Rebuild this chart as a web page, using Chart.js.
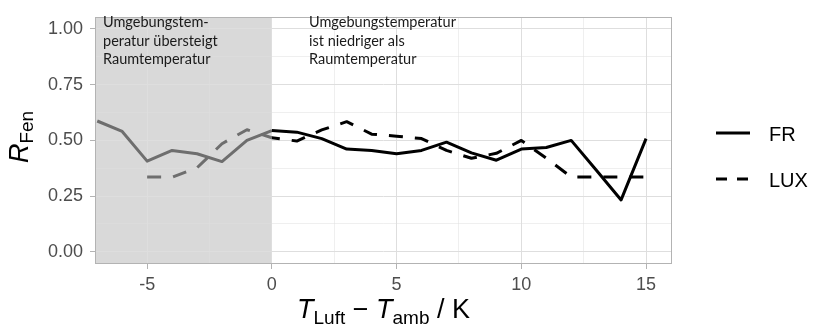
<!DOCTYPE html>
<html>
<head>
<meta charset="utf-8">
<script src="https://cdn.jsdelivr.net/npm/chart.js@4.4.1/dist/chart.umd.min.js"></script>
<style>
  html, body { margin: 0; padding: 0; background: #ffffff; }
  canvas { display: block; }
</style>
</head>
<body>
<canvas id="rfenChart" width="817" height="328"></canvas>
<script>
// --- Data: R_Fen over T_Luft - T_amb ---
// warm side (ambient hotter than room, x <= 0) is drawn in grey
const frWarmX = [-7, -6, -5, -4, -3, -2, -1, 0];
const frWarm = [0.587, 0.54, 0.407, 0.455, 0.44, 0.405, 0.50, 0.544];
const frColdX = [0, 1, 2, 3, 4, 5, 6, 7, 8, 9, 10, 11, 12, 13, 14, 15];
const frCold = [0.544, 0.537, 0.508, 0.461, 0.455, 0.44, 0.455, 0.492, 0.444, 0.411, 0.461, 0.468, 0.50, 0.367, 0.233, 0.508];

const luxWarmX = [-5, -4, -3, -2, -1, 0];
const luxWarm = [0.336, 0.335, 0.377, 0.485, 0.548, 0.512];
const luxColdX = [0, 1, 2, 3, 4, 5, 6, 7, 8, 9, 10, 11, 12, 13, 14, 15];
const luxCold = [0.512, 0.497, 0.547, 0.584, 0.528, 0.519, 0.508, 0.455, 0.42, 0.442, 0.50, 0.42, 0.336, 0.336, 0.336, 0.336];

const seriesNames = ["FR", "LUX"];

// axis ticks (major get labels, minor only grid lines)
const xMajorTicks = [-5, 0, 5, 10, 15];
const xMinorTicks = [-2.5, 2.5, 7.5, 12.5];
const yMajorTicks = [0, 0.25, 0.5, 0.75, 1];
const yMinorTicks = [0.125, 0.375, 0.625, 0.875];

const shadeEnd = 0; // shaded region runs from the left edge to x = 0
const noteWarm = ["Umgebungstem-", "peratur übersteigt", "Raumtemperatur"];
const noteCold = ["Umgebungstemperatur", "ist niedriger als", "Raumtemperatur"];

const BLACK = "#000000";
const GREY = "#6e6e6e";
const DASH = [14, 12];
const TICK_FONT = "'Liberation Sans', Arial, sans-serif";
const NOTE_FONT = "Lato, 'Open Sans', sans-serif";

function toPoints(xs, ys) {
  return xs.map((x, i) => ({ x: x, y: ys[i] }));
}

function lineSet(label, xs, ys, color, dash, offset) {
  return {
    label: label,
    data: toPoints(xs, ys),
    borderColor: color,
    backgroundColor: color,
    borderWidth: 3,
    borderDash: dash,
    borderDashOffset: offset || 0,
    borderCapStyle: "butt",
    borderJoinStyle: "round",
    pointRadius: 0,
    tension: 0,
    fill: false,
  };
}

// draw a run of text pieces with different fonts / baseline shifts, centred on x
function drawRich(ctx, parts, x, y) {
  let total = 0;
  parts.forEach(p => { ctx.font = p.font; total += ctx.measureText(p.text).width; });
  let cx = x - total / 2;
  parts.forEach(p => {
    ctx.font = p.font;
    ctx.fillText(p.text, cx, y + (p.dy || 0));
    cx += ctx.measureText(p.text).width;
  });
}

const panelPlugin = {
  id: "panel",
  beforeDraw(chart) {
    const { ctx, chartArea: a, scales } = chart;
    const xe = scales.x.getPixelForValue(shadeEnd);
    ctx.save();
    ctx.fillStyle = "#d9d9d9";
    ctx.fillRect(a.left, a.top, xe - a.left, a.bottom - a.top);
    ctx.restore();
  },
  afterDatasetsDraw(chart) {
    const { ctx, chartArea: a } = chart;
    ctx.save();
    ctx.strokeStyle = "#b3b3b3";
    ctx.lineWidth = 1;
    ctx.strokeRect(Math.round(a.left) - 0.5, Math.round(a.top) - 0.5,
      Math.round(a.right - a.left) + 1, Math.round(a.bottom - a.top) + 1);
    ctx.restore();
  },
  afterDraw(chart) {
    const { ctx, chartArea: a } = chart;
    ctx.save();

    // notes inside the panel
    ctx.fillStyle = "#1a1a1a";
    ctx.font = "14.5px " + NOTE_FONT;
    ctx.textAlign = "left";
    ctx.textBaseline = "alphabetic";
    noteWarm.forEach((t, i) => ctx.fillText(t, a.left + 7, 27 + i * 18.7));
    noteCold.forEach((t, i) => ctx.fillText(t, 309, 27 + i * 18.7));

    // legend
    const legendY = [133, 179];
    chart.data.datasets.filter(d => seriesNames.includes(d.label)).forEach((d, i) => {
      const y = legendY[i];
      ctx.strokeStyle = d.borderColor;
      ctx.lineWidth = 3;
      ctx.lineCap = "butt";
      ctx.setLineDash(d.borderDash.length ? [11, 10] : []);
      ctx.beginPath();
      ctx.moveTo(716, y);
      ctx.lineTo(750, y);
      ctx.stroke();
      ctx.setLineDash([]);
      ctx.fillStyle = "#000000";
      ctx.font = "20px " + TICK_FONT;
      ctx.fillText(d.label, 769, y + 7.5);
    });

    // x axis title: T_Luft − T_amb / K
    const big = "27px " + TICK_FONT;
    const bigIt = "italic 27px " + TICK_FONT;
    const sub = "19px " + TICK_FONT;
    ctx.fillStyle = "#000000";
    drawRich(ctx, [
      { text: "T", font: bigIt },
      { text: "Luft", font: sub, dy: 6 },
      { text: " \u2212 ", font: big },
      { text: "T", font: bigIt },
      { text: "amb", font: sub, dy: 6 },
      { text: " / K", font: big },
    ], (a.left + a.right) / 2, 318);

    // y axis title: R_Fen
    ctx.translate(28, 137);
    ctx.rotate(-Math.PI / 2);
    drawRich(ctx, [
      { text: "R", font: bigIt },
      { text: "Fen", font: sub, dy: 5 },
    ], 0, 0);

    ctx.restore();
  },
};

function gridStyle(majors) {
  return {
    color: "#dedede",
    lineWidth: c => (c.tick && majors.includes(c.tick.value) ? 1 : 0.5),
    tickColor: c => (c.tick && majors.includes(c.tick.value) ? "#b3b3b3" : "rgba(0,0,0,0)"),
    tickLength: 6,
    drawTicks: true,
  };
}

const ctx = document.getElementById("rfenChart").getContext("2d");

const chart = new Chart(ctx, {
  type: "line",
  data: {
    datasets: [
      lineSet("FR", frColdX, frCold, BLACK, []),
      lineSet("LUX", luxColdX, luxCold, BLACK, DASH, 6),
      lineSet("FR warm", frWarmX, frWarm, GREY, []),
      lineSet("LUX warm", luxWarmX, luxWarm, GREY, DASH),
    ],
  },
  options: {
    responsive: false,
    animation: false,
    devicePixelRatio: 1,
    events: [],
    layout: { padding: { top: 7, right: 146, bottom: 0, left: 0 } },
    plugins: {
      legend: { display: false },
      tooltip: { enabled: false },
    },
    scales: {
      x: {
        type: "linear",
        min: -7.05,
        max: 16.0,
        afterBuildTicks: s => { s.ticks = xMajorTicks.concat(xMinorTicks).sort((p, q) => p - q).map(v => ({ value: v })); },
        afterFit: s => { s.height = 65; },
        grid: gridStyle(xMajorTicks),
        border: { display: false },
        ticks: {
          autoSkip: false,
          maxRotation: 0,
          padding: 5,
          color: "#4d4d4d",
          font: { family: TICK_FONT, size: 18 },
          callback: v => (xMajorTicks.includes(v) ? String(v) : ""),
        },
      },
      y: {
        type: "linear",
        min: -0.05,
        max: 1.05,
        afterBuildTicks: s => { s.ticks = yMajorTicks.concat(yMinorTicks).sort((p, q) => p - q).map(v => ({ value: v })); },
        afterFit: s => { s.width = 96; },
        grid: gridStyle(yMajorTicks),
        border: { display: false },
        ticks: {
          autoSkip: false,
          padding: 7,
          color: "#4d4d4d",
          font: { family: TICK_FONT, size: 18 },
          callback: v => (yMajorTicks.includes(v) ? v.toFixed(2) : ""),
        },
      },
    },
  },
  plugins: [panelPlugin],
});
</script>
</body>
</html>
